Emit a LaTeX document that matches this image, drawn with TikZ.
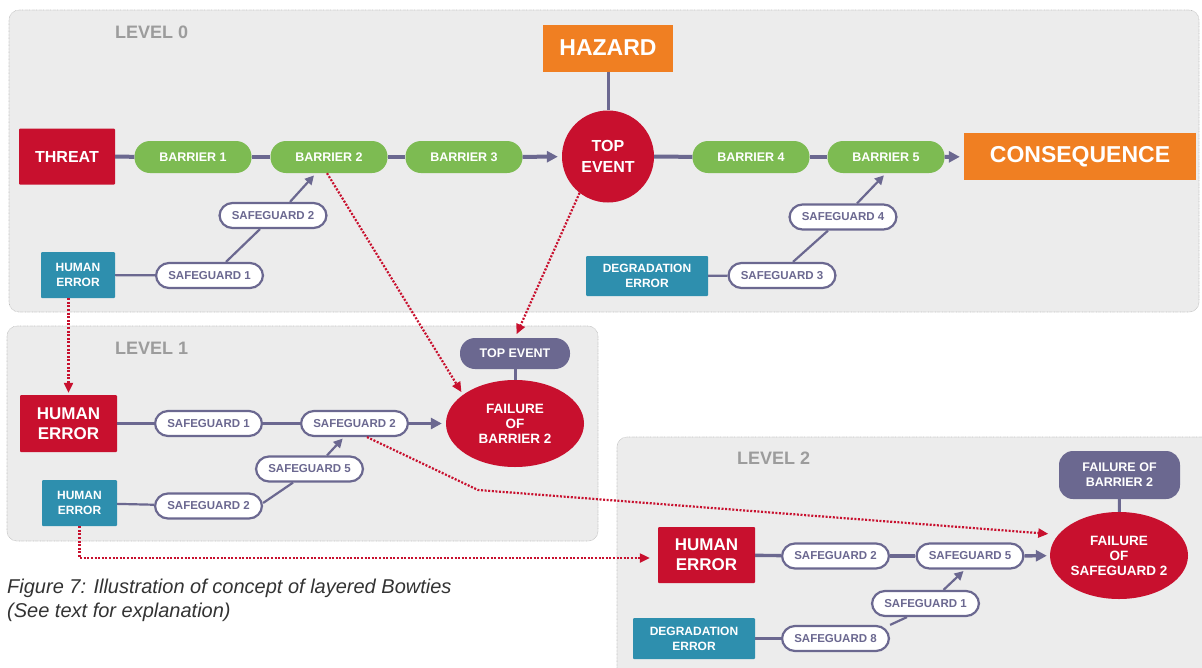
\documentclass[tikz,border=0pt]{standalone}
\usepackage{fontspec}
\setmainfont{Liberation Sans}
\usetikzlibrary{arrows.meta,shapes.geometric}
\definecolor{bowred}{HTML}{C8102E}
\definecolor{bowgreen}{HTML}{7DBB52}
\definecolor{boworange}{HTML}{F07F22}
\definecolor{bowteal}{HTML}{2E8FAE}
\definecolor{bowline}{HTML}{6B6890}
\definecolor{bowpanel}{HTML}{ECECEC}
\definecolor{bowlabel}{HTML}{9C9C9C}
\newcommand{\bowfont}[2]{\bfseries\fontsize{#1}{#2}\selectfont}

\begin{document}
\begin{tikzpicture}[x=1pt,y=1pt,
  panel/.style={fill=bowpanel,draw=black!25,line width=0.6pt,dash pattern=on 0.7pt off 0.7pt,rounded corners=10pt},
  level/.style={anchor=west,text=bowlabel,inner sep=0pt,font=\bowfont{18}{20}},
  redbox/.style={fill=bowred,text=white,align=center,inner sep=0pt,rounded corners=1pt},
  tealbox/.style={fill=bowteal,text=white,align=center,inner sep=0pt,rounded corners=1pt,font=\bowfont{12}{15}},
  orangebox/.style={fill=boworange,text=white,inner sep=0pt,font=\bowfont{23}{25}},
  barrier/.style={fill=bowgreen,text=white,rounded corners=15.5pt,minimum width=117pt,minimum height=32pt,inner sep=0pt,font=\bowfont{12.5}{14}},
  guard/.style={fill=white,draw=bowline,line width=2.2pt,text=bowline,rounded corners=13pt,minimum width=107pt,minimum height=25pt,inner sep=0pt,font=\bowfont{11.5}{13}},
  event/.style={ellipse,fill=bowred,text=white,align=center,inner sep=0pt},
  tag/.style={fill=bowline,text=white,align=center,inner sep=0pt},
  mainline/.style={draw=bowline,line width=4pt},
  subline/.style={draw=bowline,line width=3.4pt},
  branch/.style={draw=bowline,line width=2.2pt},
  tip/.style={-{Triangle[length=11pt,width=11pt]}},
  smalltip/.style={-{Triangle[length=9pt,width=9pt]}},
  link/.style={draw=bowred,line width=2.2pt,dash pattern=on 2pt off 1.6pt,-{Triangle[length=10pt,width=9pt]}},
  caption/.style={anchor=west,inner sep=0pt,text=black!80,font=\itshape\fontsize{20}{24}\selectfont}
]
  \clip (0,0) rectangle (1202,-667);

  \path[panel] (9,-10) rectangle (1199,-312);
  \path[panel] (7,-326) rectangle (598,-541);
  \path[panel] (617,-437) rectangle (1215,-690);

  \node[level] (lev0) at (115,-32) {LEVEL 0};
  \node[level] (lev1) at (115,-348) {LEVEL 1};
  \node[level] (lev2) at (737,-458) {LEVEL 2};

  \node[orangebox,minimum width=130pt,minimum height=47pt] (hazard) at (608,-48) {HAZARD};
  \node[event,circle,minimum size=92pt,font=\bowfont{16}{21}] (top) at (608,-156.5) {TOP\\EVENT};
  \node[redbox,minimum width=96pt,minimum height=56pt,font=\bowfont{16}{18}] (threat) at (67,-156.5) {THREAT};
  \node[barrier] (bar1) at (193,-157) {BARRIER 1};
  \node[barrier] (bar2) at (329,-157) {BARRIER 2};
  \node[barrier] (bar3) at (464,-157) {BARRIER 3};
  \node[barrier] (bar4) at (751,-157) {BARRIER 4};
  \node[barrier] (bar5) at (886,-157) {BARRIER 5};
  \node[orangebox,minimum width=232pt,minimum height=47pt] (conseq) at (1080,-156.5) {CONSEQUENCE};
  \node[guard] (sgA2) at (273,-215.5) {SAFEGUARD 2};
  \node[guard] (sgA1) at (209.5,-275.5) {SAFEGUARD 1};
  \node[tealbox,minimum width=74pt,minimum height=46pt] (errA) at (78,-275) {HUMAN\\ERROR};
  \node[guard] (sgA4) at (843,-217) {SAFEGUARD 4};
  \node[guard] (sgA3) at (782,-275.5) {SAFEGUARD 3};
  \node[tealbox,minimum width=122pt,minimum height=40pt] (degA) at (647,-276) {DEGRADATION\\ERROR};

  \node[tag,rounded corners=15pt,minimum width=110pt,minimum height=31pt,font=\bowfont{12.5}{14}] (topB) at (515,-353.5) {TOP EVENT};
  \node[event,minimum width=138pt,minimum height=87pt,font=\bowfont{13.5}{15}] (failB) at (515,-423.5) {FAILURE\\OF\\BARRIER 2};
  \node[redbox,minimum width=97pt,minimum height=57pt,font=\bowfont{17}{20}] (errB) at (68.5,-423.5) {HUMAN\\ERROR};
  \node[guard] (sgB1) at (208.5,-423.5) {SAFEGUARD 1};
  \node[guard] (sgB2) at (354.5,-423.5) {SAFEGUARD 2};
  \node[guard] (sgB5) at (309.5,-469) {SAFEGUARD 5};
  \node[guard] (sgB2b) at (208.5,-506) {SAFEGUARD 2};
  \node[tealbox,minimum width=75pt,minimum height=46pt] (errBb) at (79.5,-503) {HUMAN\\ERROR};

  \node[tag,rounded corners=14pt,minimum width=121pt,minimum height=48pt,font=\bowfont{12.5}{15}] (topC) at (1119.5,-475) {FAILURE OF\\BARRIER 2};
  \node[event,minimum width=138pt,minimum height=87pt,font=\bowfont{13.5}{15}] (failC) at (1119,-555.5) {FAILURE\\OF\\SAFEGUARD 2};
  \node[redbox,minimum width=97pt,minimum height=56pt,font=\bowfont{17}{20}] (errC) at (706.5,-555) {HUMAN\\ERROR};
  \node[guard] (sgC2) at (835.5,-556) {SAFEGUARD 2};
  \node[guard] (sgC5) at (970,-556) {SAFEGUARD 5};
  \node[guard] (sgC1) at (925.5,-603.5) {SAFEGUARD 1};
  \node[guard] (sgC8) at (835.5,-638.5) {SAFEGUARD 8};
  \node[tealbox,minimum width=122pt,minimum height=41pt] (degC) at (694,-638.5) {DEGRADATION\\ERROR};

  \node[caption] (cap1) at (7,-588) {Figure 7: Illustration of concept of layered Bowties};
  \node[caption] (cap2) at (7,-612) {(See text for explanation)};

  \draw[mainline] (threat) -- (bar1);
  \draw[mainline] (bar1) -- (bar2);
  \draw[mainline] (bar2) -- (bar3);
  \draw[mainline,tip,shorten >=4pt] (bar3) -- (top);
  \draw[mainline] (top) -- (bar4);
  \draw[mainline] (bar4) -- (bar5);
  \draw[mainline,tip,shorten >=4pt] (bar5) -- (conseq);
  \draw[line width=3pt,draw=bowline] (hazard) -- (top);
  \draw[branch] (errA) -- (sgA1);
  \draw[branch] ([xshift=16.5pt]sgA1.north) -- ([xshift=-13pt]sgA2.south);
  \draw[branch,smalltip,shorten >=3pt] ([xshift=17pt]sgA2.north) -- ([xshift=-13pt]bar2.south);
  \draw[branch] (degA) -- (sgA3);
  \draw[branch] ([xshift=11pt]sgA3.north) -- ([xshift=-15pt]sgA4.south);
  \draw[branch,smalltip,shorten >=3pt] ([xshift=14pt]sgA4.north) -- (bar5.south);

  \draw[subline] (errB) -- (sgB1);
  \draw[subline] (sgB1) -- (sgB2);
  \draw[subline,tip,shorten >=4pt] (sgB2) -- (failB);
  \draw[line width=3pt,draw=bowline] (topB) -- (failB);
  \draw[branch] (errBb) -- (sgB2b);
  \draw[branch] ([yshift=3pt]sgB2b.east) -- ([xshift=-16.5pt]sgB5.south);
  \draw[branch,smalltip,shorten >=2pt] ([xshift=17.5pt]sgB5.north) -- ([xshift=-10.5pt]sgB2.south);

  \draw[subline] (errC) -- (sgC2);
  \draw[subline] (sgC2) -- (sgC5);
  \draw[subline,tip,shorten >=3pt] (sgC5) -- (failC);
  \draw[line width=3pt,draw=bowline] (topC) -- (failC);
  \draw[branch] (degC) -- (sgC8);
  \draw[branch] (sgC8.north east) -- ([xshift=-18.5pt]sgC1.south);
  \draw[branch,smalltip,shorten >=2pt] ([xshift=18pt]sgC1.north) -- ([xshift=-5pt]sgC5.south);

  \coordinate (bend) at (478,-490);
  \draw[link] (errB.north |- errA.south) -- ([yshift=2pt]errB.north);
  \draw[link,shorten >=3pt] ([xshift=-2pt]bar2.south) -- (failB.151);
  \draw[link,shorten >=4pt] (top.232) -- (topB.north);
  \draw[link,shorten >=10pt] ([xshift=12.5pt]sgB2.south) -- (bend) -- (failC.161);
  \draw[link] (errBb.south) |- ([xshift=-8pt,yshift=-3pt]errC.west);
\end{tikzpicture}
\end{document}
